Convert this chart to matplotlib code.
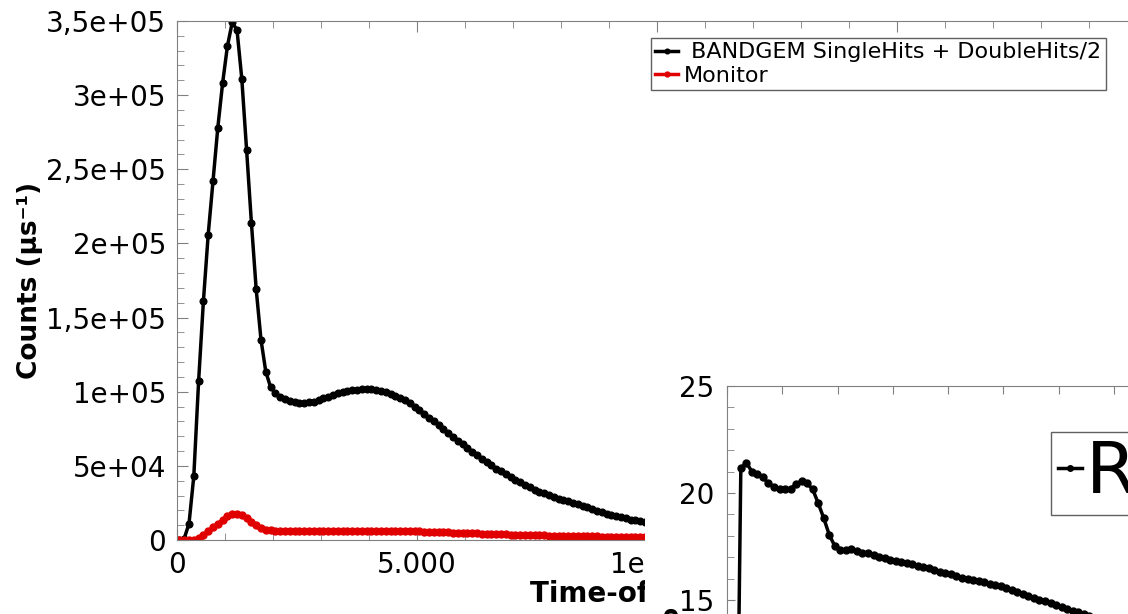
import numpy as np
import matplotlib
matplotlib.use("Agg")
import matplotlib.pyplot as plt
from matplotlib.patches import Rectangle
from matplotlib.ticker import MultipleLocator

# time-of-flight bin centres (us)
tof = np.arange(50, 9800, 100)

bandgem = [
    0, 1.0e3, 1.1e4, 4.3e4, 1.07e5, 1.61e5, 2.06e5, 2.42e5, 2.78e5, 3.08e5,
    3.33e5, 3.49e5, 3.44e5, 3.11e5, 2.63e5, 2.14e5, 1.69e5, 1.35e5, 1.135e5, 1.03e5,
    9.9e4, 9.65e4, 9.5e4, 9.38e4, 9.3e4, 9.27e4, 9.26e4, 9.28e4, 9.34e4, 9.43e4,
    9.55e4, 9.67e4, 9.78e4, 9.88e4, 9.97e4, 1.004e5, 1.010e5, 1.014e5, 1.016e5, 1.016e5,
    1.015e5, 1.011e5, 1.004e5, 9.95e4, 9.83e4, 9.7e4, 9.58e4, 9.42e4, 9.22e4, 9.0e4,
    8.75e4, 8.5e4, 8.25e4, 8.0e4, 7.75e4, 7.48e4, 7.22e4, 6.96e4, 6.7e4, 6.45e4,
    6.2e4, 5.96e4, 5.72e4, 5.48e4, 5.25e4, 5.03e4, 4.82e4, 4.62e4, 4.43e4, 4.24e4,
    4.06e4, 3.88e4, 3.71e4, 3.55e4, 3.4e4, 3.27e4, 3.14e4, 3.01e4, 2.9e4, 2.79e4,
    2.69e4, 2.6e4, 2.5e4, 2.4e4, 2.3e4, 2.2e4, 2.1e4, 1.98e4, 1.88e4, 1.78e4,
    1.68e4, 1.6e4, 1.52e4, 1.45e4, 1.38e4, 1.32e4, 1.26e4, 1.2e4,
]

monitor = [
    0, 0, 0, 300, 1500, 3500, 6000, 8500, 11000, 13500,
    16000, 17500, 17800, 17000, 15000, 12200, 9800, 8000, 7000, 6500,
    6300, 6200, 6100, 6000, 6000, 5950, 5950, 5950, 6000, 6000,
    6050, 6100, 6150, 6200, 6250, 6300, 6300, 6350, 6350, 6350,
    6350, 6300, 6300, 6250, 6200, 6150, 6100, 6000, 5950, 5850,
    5750, 5650, 5550, 5450, 5350, 5200, 5100, 5000, 4850, 4750,
    4600, 4500, 4400, 4250, 4150, 4050, 3950, 3850, 3750, 3650,
    3550, 3450, 3350, 3300, 3200, 3100, 3050, 2950, 2900, 2800,
    2750, 2700, 2650, 2600, 2550, 2500, 2450, 2400, 2350, 2300,
    2300, 2250, 2250, 2200, 2200, 2200, 2150, 2150,
]

# inset: ratio
tof_ratio = np.arange(150, 6700, 100)
ratio = [
    0,
    21.15, 21.42, 21.0, 20.89, 20.73, 20.45, 20.27, 20.17, 20.17, 20.2,
    20.42, 20.56, 20.45, 20.17, 19.52, 18.82, 18.04, 17.52, 17.34, 17.34,
    17.38, 17.3, 17.21, 17.18, 17.09, 17.0, 16.95, 16.87, 16.84, 16.78,
    16.72, 16.66, 16.6, 16.55, 16.48, 16.4, 16.33, 16.27, 16.2, 16.12,
    16.05, 16.0, 15.93, 15.87, 15.82, 15.76, 15.7, 15.65, 15.55, 15.46,
    15.37, 15.28, 15.18, 15.1, 15.02, 14.93, 14.85, 14.77, 14.68, 14.6,
    14.5, 14.42, 14.33, 14.25, 14.15,
]

y_ticks = [0, 5e4, 1e5, 1.5e5, 2e5, 2.5e5, 3e5, 3.5e5]
y_labels = ["0", "5e+04", "1e+05", "1,5e+05", "2e+05", "2,5e+05", "3e+05", "3,5e+05"]
x_ticks = [0, 5000, 10000, 15000, 20000]
x_labels = ["0", "5.000", "1e+04", "1,5e+04", "2e+04"]

W, H = 1128, 614
spine_col = "#808080"

fig = plt.figure(figsize=(W / 100, H / 100), dpi=100)

# main plot
ax = fig.add_axes([177 / W, (H - 540) / H, 960 / W, 519 / H])
ax.plot(tof, bandgem, color="black", lw=2.5, marker="o", ms=4.8,
        label=" BANDGEM SingleHits + DoubleHits/2")
ax.plot(tof, monitor, color="#e00000", lw=2.5, marker="o", ms=5, mec="#e00000",
        label="Monitor")
ax.set_xlim(0, 20000)
ax.set_ylim(0, 3.5e5)
ax.set_yticks(y_ticks)
ax.set_yticklabels(y_labels)
ax.set_xticks(x_ticks)
ax.set_xticklabels(x_labels)
ax.xaxis.set_minor_locator(MultipleLocator(1000))
ax.yaxis.set_minor_locator(MultipleLocator(1e4))
ax.tick_params(which="both", direction="in", top=True, right=False,
               color=spine_col, labelsize=20, pad=8)
ax.tick_params(which="major", length=8)
ax.tick_params(which="minor", length=5)
for s in ax.spines.values():
    s.set_color(spine_col)
ax.set_ylabel("Counts (µs⁻¹)", fontsize=19, fontweight="bold", labelpad=2)
ax.set_xlabel("Time-of-flight (µs)", fontsize=20, fontweight="bold")
ax.xaxis.set_label_coords(0.517, -0.078)

leg = ax.legend(loc="upper left", bbox_to_anchor=(651 / W, (H - 38) / H),
                bbox_transform=fig.transFigure, fontsize=16, handlelength=1.0,
                handletextpad=0.3, borderpad=0.2, labelspacing=0.15,
                fancybox=False, framealpha=1, borderaxespad=0, markerscale=0.7)
leg.get_frame().set_edgecolor("#606060")

# white area behind the inset
fig.add_artist(Rectangle((645 / W, 0), 1 - 645 / W, (H - 365) / H,
                         transform=fig.transFigure, facecolor="white",
                         edgecolor="none", zorder=1))

# inset
ins = fig.add_axes([727 / W, (H - 921) / H, 553 / W, 535 / H])
ins.set_zorder(2)
ins.plot(tof_ratio, ratio, color="black", lw=2.5, marker="o", ms=5, label="Ratio")
ins.set_xlim(0, 10000)
ins.set_ylim(0, 25)
ins.xaxis.set_major_locator(MultipleLocator(1000))
ins.yaxis.set_major_locator(MultipleLocator(5))
ins.yaxis.set_minor_locator(MultipleLocator(1))
ins.tick_params(which="both", direction="in", top=True, right=True,
                color=spine_col, labelsize=20, pad=9, labelbottom=False)
ins.tick_params(which="major", length=6)
ins.tick_params(which="minor", length=5)
for s in ins.spines.values():
    s.set_color(spine_col)
ileg = ins.legend(loc="upper left", bbox_to_anchor=(1051 / W, (H - 432) / H),
                  bbox_transform=fig.transFigure, fontsize=52, handlelength=0.33,
                  handletextpad=0.05, borderpad=0.1, fancybox=False, framealpha=1,
                  borderaxespad=0, markerscale=0.8)
ileg.get_frame().set_edgecolor("#606060")

fig.text(670 / W, (H - 604) / H, "Ratio", rotation=90, ha="center", va="top",
         fontsize=18, fontweight="bold", zorder=3)

fig.savefig("out.png", dpi=100)
